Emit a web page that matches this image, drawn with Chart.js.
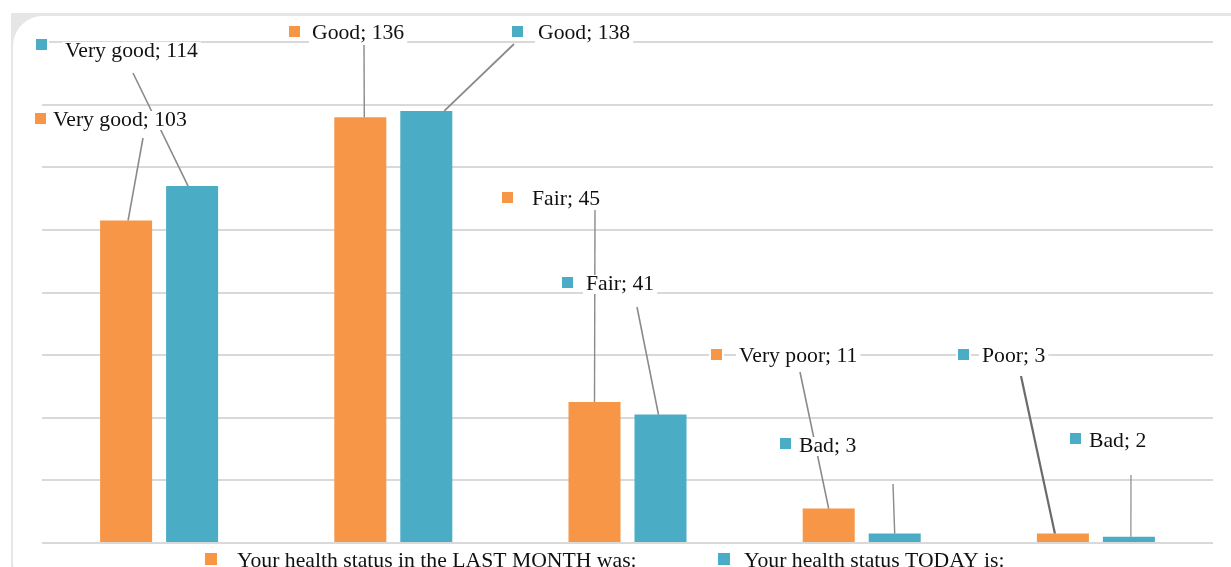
<!DOCTYPE html>
<html>
<head>
<meta charset="utf-8">
<script src="https://cdn.jsdelivr.net/npm/chart.js@4"></script>
<style>
  html, body { margin:0; padding:0; width:1231px; height:567px; overflow:hidden; background:#fff; }
  #frame { position:absolute; left:11px; top:13px; width:1250px; height:580px; background:#e6e6e6; }
  #inner { position:absolute; left:2px; top:3px; right:0; bottom:0; background:#fff; border-radius:30px; }
  #wrap { position:absolute; left:0; top:0; width:1231px; height:567px; }
</style>
</head>
<body>
<div id="frame"><div id="inner"></div></div>
<div id="wrap"><canvas id="c" width="1231" height="567"></canvas></div>
<script>
// ---- data ----
const categories = ['1', '2', '3', '4', '5'];
const seriesNames = ['Your health status in the LAST MONTH was:', 'Your health status TODAY is:'];
const lastMonthLabels = ['Very good', 'Good', 'Fair', 'Very poor', 'Poor'];
const lastMonthValues = [103, 136, 45, 11, 3];
const todayLabels = ['Very good', 'Good', 'Fair', 'Bad', 'Bad'];
const todayValues = [114, 138, 41, 3, 2];
const yTicks = [0, 20, 40, 60, 80, 100, 120, 140, 160];

// ---- styles ----
const ORANGE = '#F79646';
const BLUE = '#4BACC6';
const FONT = '21.7px "Liberation Serif", "Times New Roman", serif';

// label placement (pixel layout of callouts)
const labelLayout = [
  {ds:1, i:0, sq:36,  tx:65,  y:50,  sqy:45,  color:BLUE,   from:[133,73],  dx:-4, lw:1.6},
  {ds:0, i:0, sq:35,  tx:53,  y:119, sqy:119, color:ORANGE, from:[143,138], dx:2,  lw:1.6},
  {ds:0, i:1, sq:289, tx:312, y:32,  sqy:32,  color:ORANGE, from:[364,45],  dx:4,  lw:1.4},
  {ds:1, i:1, sq:512, tx:538, y:32,  sqy:32,  color:BLUE,   from:[514,44],  dx:18, lw:1.8},
  {ds:0, i:2, sq:502, tx:532, y:198, sqy:198, color:ORANGE, from:[595,210], dx:0,  lw:1.4},
  {ds:1, i:2, sq:562, tx:586, y:283, sqy:283, color:BLUE,   from:[637,307], dx:-2, lw:1.6},
  {ds:0, i:3, sq:711, tx:739, y:355, sqy:355, color:ORANGE, from:[800,372], dx:0,  lw:1.6},
  {ds:1, i:3, sq:780, tx:799, y:445, sqy:444, color:BLUE,   from:[893,484], dx:0,  lw:1.4},
  {ds:0, i:4, sq:958, tx:982, y:355, sqy:355, color:BLUE,   from:[1021,376],dx:-8, lw:2.2},
  {ds:1, i:4, sq:1070,tx:1089,y:440, sqy:439, color:BLUE,   from:[1131,475],dx:2,  lw:1.2}
];
const seriesLabels = [lastMonthLabels, todayLabels];
const seriesValues = [lastMonthValues, todayValues];

const calloutPlugin = {
  id: 'callouts',
  afterDatasetsDraw(chart) {
    const ctx = chart.ctx;
    ctx.save();
    // leader lines
    labelLayout.forEach(l => {
      const el = chart.getDatasetMeta(l.ds).data[l.i];
      ctx.beginPath();
      ctx.strokeStyle = l.lw > 1.9 ? '#6b6b6b' : '#8a8a8a';
      ctx.lineWidth = l.lw;
      ctx.moveTo(l.from[0], l.from[1]);
      ctx.lineTo(el.x + l.dx, el.y);
      ctx.stroke();
    });
    ctx.font = FONT;
    ctx.textBaseline = 'middle';
    ctx.textAlign = 'left';
    labelLayout.forEach(l => {
      const text = seriesLabels[l.ds][l.i] + '; ' + seriesValues[l.ds][l.i];
      const w = ctx.measureText(text).width;
      ctx.fillStyle = '#fff';
      ctx.fillRect(l.tx - 3, l.y - 8, w + 6, 19);
      ctx.fillRect(l.sq - 2, l.sqy - 7, 15, 15);
      ctx.fillStyle = l.color;
      ctx.fillRect(l.sq, l.sqy - 6, 11, 11);
      ctx.fillStyle = '#111';
      ctx.fillText(text, l.tx, l.y + 1);
    });
    // legend
    const legendItems = [
      {sq:205, tx:237, color:ORANGE, text:seriesNames[0]},
      {sq:718, tx:744, color:BLUE, text:seriesNames[1]}
    ];
    legendItems.forEach(it => {
      ctx.fillStyle = it.color;
      ctx.fillRect(it.sq, 553, 12, 12);
      ctx.fillStyle = '#111';
      ctx.textBaseline = 'alphabetic';
      ctx.fillText(it.text, it.tx, 567);
    });
    ctx.restore();
  }
};

new Chart(document.getElementById('c'), {
  type: 'bar',
  data: {
    labels: categories,
    datasets: [
      {label: seriesNames[0], data: lastMonthValues, backgroundColor: ORANGE,
       categoryPercentage: 0.5636, barPercentage: 0.788},
      {label: seriesNames[1], data: todayValues, backgroundColor: BLUE,
       categoryPercentage: 0.5636, barPercentage: 0.788}
    ]
  },
  options: {
    responsive: false,
    animation: false,
    devicePixelRatio: 1,
    layout: { padding: { left: 42, right: 18, top: 42, bottom: 24 } },
    plugins: { legend: { display: false }, tooltip: { enabled: false } },
    scales: {
      x: { display: false },
      y: {
        min: 0, max: 160,
        afterBuildTicks(scale) { scale.ticks = yTicks.map(v => ({value: v})); },
        ticks: { display: false },
        border: { display: false },
        grid: { color: '#d9d9d9', lineWidth: 2, drawTicks: false }
      }
    }
  },
  plugins: [calloutPlugin]
});
</script>
</body>
</html>
